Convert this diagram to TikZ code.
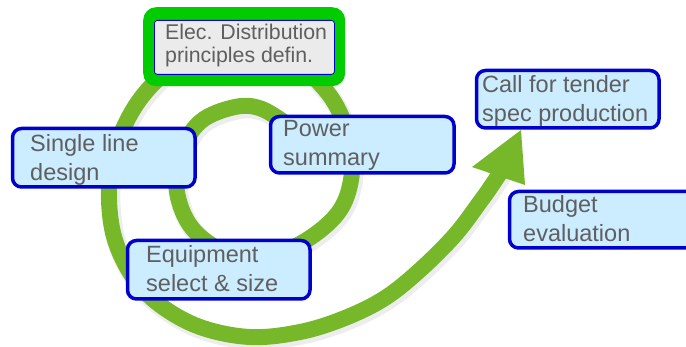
\documentclass[tikz,border=0pt]{standalone}
\usepackage{fontspec}
\setmainfont{Liberation Sans}
\definecolor{ringgreen}{HTML}{76B82A}
\definecolor{framegreen}{HTML}{00CC00}
\definecolor{boxfill}{HTML}{CCECFF}
\definecolor{boxline}{HTML}{0000CC}
\definecolor{txtgrey}{HTML}{5F5F5F}
\definecolor{elecfill}{HTML}{EBEBEB}
\begin{document}
\begin{tikzpicture}[x=1pt,y=-1pt,
  bluebox/.style={draw=boxline, line width=3.5pt, fill=boxfill, rounded corners=9pt,
    inner sep=0pt, anchor=north west},
  boxtxt/.style={anchor=base west, inner sep=0pt, text=txtgrey,
    font=\fontsize{23.5}{28.5}\selectfont},
  spiral/.style={draw=ringgreen, line width=16pt},
]
\useasboundingbox (0,0) rectangle (686,347);
\clip (0,0) rectangle (686,347);

% arrow head points
\coordinate (wingL) at (472,167);
\coordinate (tip) at (521,130);
\coordinate (wingR) at (525,185);

% faint shadow of the spiral
\draw[black, opacity=0.07, line width=19pt, shift={(2,3)}] plot[smooth, tension=0.6] coordinates {(292,128) (262,109) (235,107) (200,122) (180,155) (177,192) (192,228) (225,252) (265,257) (305,241) (338,213) (351,180) (350,145) (340,113) (322,86) (290,58) (240,46) (190,55) (155,82) (130,115) (112,160) (109,200) (115,240) (133,277) (160,305) (200,327) (250,337) (300,332) (345,318) (385,298) (420,270) (455,235) (480,202) (490,188) (502,170)};

% spiral
\draw[spiral] plot[smooth, tension=0.6] coordinates {(292,128) (262,109) (235,107) (200,122) (180,155) (177,192) (192,228) (225,252) (265,257) (305,241) (338,213) (351,180) (350,145) (340,113) (322,86) (290,58) (240,46) (190,55) (155,82) (130,115) (112,160) (109,200) (115,240) (133,277) (160,305) (200,327) (250,337) (300,332) (345,318) (385,298) (420,270) (455,235) (480,202) (490,188) (502,170)};
\fill[ringgreen] (wingL) -- (tip) -- (wingR) -- cycle;

% Elec. Distribution box
\node[fill=framegreen, rounded corners=13pt, minimum width=202pt, minimum height=79pt,
  anchor=north west, inner sep=0pt] (elecframe) at (143,7) {};
\node[fill=elecfill, draw=boxline, line width=0.8pt, rounded corners=3pt,
  minimum width=180pt, minimum height=54pt, anchor=north west, inner sep=0pt] (elec) at (154,20) {};
\node[boxtxt, font=\fontsize{21.3}{23}\selectfont] (elect) at (165,40)
  {\begin{tabular}[t]{@{}l@{}}Elec. Distribution\\principles defin.\end{tabular}};

% blue boxes
\node[bluebox, minimum width=182.5pt, minimum height=58.5pt] (sld) at (10.75,126.75) {};
\node[boxtxt] (sldt) at (30,152) {\begin{tabular}[t]{@{}l@{}}Single line\\design\end{tabular}};

\node[bluebox, minimum width=183.5pt, minimum height=56.5pt] (pow) at (268.75,114.75) {};
\node[boxtxt] (powt) at (283,137) {\begin{tabular}[t]{@{}l@{}}Power\\summary\end{tabular}};

\node[bluebox, minimum width=182.5pt, minimum height=58.5pt] (equ) at (125.75,238.75) {};
\node[boxtxt] (equt) at (146,263) {\begin{tabular}[t]{@{}l@{}}Equipment\\select \& size\end{tabular}};

\node[bluebox, minimum width=182.5pt, minimum height=57.5pt] (call) at (474.75,68.75) {};
\node[boxtxt] (callt) at (482,93) {\begin{tabular}[t]{@{}l@{}}Call for tender\\spec production\end{tabular}};

\node[bluebox, minimum width=190pt, minimum height=56.5pt] (bud) at (507.75,189.75) {};
\node[boxtxt] (budt) at (523,213) {\begin{tabular}[t]{@{}l@{}}Budget\\evaluation\end{tabular}};
\end{tikzpicture}
\end{document}
